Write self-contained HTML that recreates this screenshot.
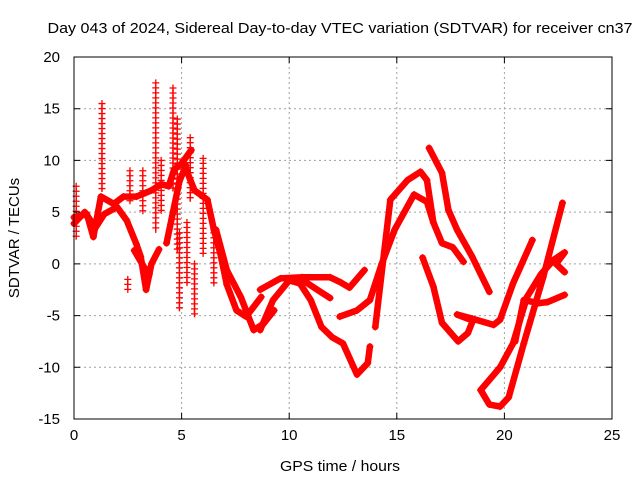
<!DOCTYPE html>
<html><head><meta charset="utf-8"><style>
html,body{margin:0;padding:0;background:#fff;}
svg{display:block;font-family:"Liberation Sans",sans-serif;}
</style></head><body>
<svg id="chart" width="640" height="480" viewBox="0 0 640 480">
<text x="340" y="33" font-size="15" text-anchor="middle" textLength="585" lengthAdjust="spacingAndGlyphs">Day 043 of 2024, Sidereal Day-to-day VTEC variation (SDTVAR) for receiver cn37</text>
<g id="grid"></g>
<g id="marks"></g>
<rect x="74" y="57" width="538" height="362" fill="none" stroke="#000" stroke-width="1"/>
<g id="axes"></g>
<text x="340" y="471" font-size="15" text-anchor="middle" textLength="120" lengthAdjust="spacingAndGlyphs">GPS time / hours</text>
<text transform="translate(19,238) rotate(-90)" font-size="15" text-anchor="middle">SDTVAR / TECUs</text>
</svg>
<script>
const xTicks=[0,5,10,15,20,25];
const yTicks=[-15,-10,-5,0,5,10,15,20];
// tracks: times and values
const tA=[14.0,14.7,15.5,16.1,16.4,16.7,17.1,17.6,18.1];
const vA=[-6.1,6.2,8.1,8.9,8.1,4.0,2.0,1.6,0.2];
const tB=[13.75,14.3,14.9,15.8,16.4,16.7];
const vB=[-3.5,0,3.3,6.7,6.0,4.0];
const tC=[16.5,17.1,17.4,17.8,18.5,19.3];
const vC=[11.2,8.8,5.2,3.3,0.7,-2.7];
const tD=[16.2,16.7,17.1,17.85,18.3,18.55,18.3,17.8,18.5,19.5,19.8,20.4,21.3];
const vD=[0.6,-2.2,-5.7,-7.5,-6.7,-5.4,-5.3,-4.9,-5.3,-5.9,-5.4,-1.9,2.3];
const tE=[18.9,19.3,19.8,20.2,20.9,21.8,22.7];
const vE=[-12.2,-13.6,-13.8,-12.9,-7.7,-1.3,5.9];
const tF=[18.9,19.8,20.4,21.05,21.7,22.3,22.8,22.4,22.8];
const vF=[-12.2,-10.0,-7.7,-3.2,-1.0,0.4,1.1,0.0,-0.8];
const tG=[20.5,20.9,21.6,22.0,22.8];
const vG=[-7.5,-3.5,-3.8,-3.7,-3.0];
const tH=[8.65,9.6,10.6,11.9,12.4,12.8,13.5];
const vH=[-2.5,-1.4,-1.3,-1.3,-1.8,-2.3,-0.6];
const tI=[8.65,9.25,10.0,10.5,11.0,11.5,12.0,12.5,13.15,13.65,13.75];
const vI=[-6.4,-3.5,-1.6,-1.9,-3.5,-6.1,-7.1,-7.7,-10.7,-9.6,-8.0];
const tJ=[12.35,13.15,13.75];
const vJ=[-5.1,-4.5,-3.5];
const tK=[10.65,11.3,11.9];
const vK=[-1.6,-2.5,-3.3];
const tL=[0,0.6,0.9,1.25,1.85,2.3,2.9,3.6,4.05,4.4,4.65,5.0,5.45];
const vL=[4.5,4.8,2.6,6.5,5.8,6.5,6.5,7.1,7.7,7.5,9.1,9.7,11.0];
const tM=[0,0.5,1.0,1.4,2.0,2.45,2.9,3.1,3.35,3.6,3.95];
const vM=[3.9,5.0,3.5,4.8,5.5,4.2,1.9,0.7,-2.5,0.0,1.4];
const tN=[2.8,3.25,3.5];
const vN=[1.3,-0.3,-1.0];
const tO=[5.1,5.6,6.2,6.5,6.8,7.1,7.55,8.0,8.7];
const vO=[9.7,7.1,6.2,3.3,1.0,-2.0,-4.5,-5.1,-3.2];
const tP=[6.6,7.1,7.75,8.35,8.8,9.3];
const vP=[3.3,-0.6,-3.2,-6.4,-5.8,-4.5];
const tQ=[4.3,4.6,4.9,5.2];
const vQ=[2.0,5.0,8.0,9.5];
// spikes: time, low, high
const spikeT=[1.3,2.6,3.2,3.8,4.05,4.6,4.8,5.4,6.0,4.9,5.6,2.5,6.5,0.1,5.25];
const spikeLo=[7,6,5,3,5,7,1,6,1,-4.5,-5,-2.5,-2,2.5,-2];
const spikeHi=[15.5,9,9,17.5,10,17,14,12.2,10.2,3,0,-1.5,3,7.5,4];

const NS="http://www.w3.org/2000/svg";
const X0=74,X1=612,Y0=419,Y1=57;
function xs(t){return X0+(t-0)/25*(X1-X0);}
function ys(v){return Y0-(v+15)/35*(Y0-Y1);}
const grid=document.getElementById('grid'),axes=document.getElementById('axes'),marks=document.getElementById('marks');
function mk(tag,attrs,parent){const e=document.createElementNS(NS,tag);for(const k in attrs)e.setAttribute(k,attrs[k]);parent.appendChild(e);return e;}
xTicks.forEach(t=>{
  const x=xs(t);
  if(t>0&&t<25){const g=mk('line',{x1:x,x2:x,y1:Y0,y2:Y1,stroke:'#a0a0a0','stroke-dasharray':'2,3'},grid);
  
  }
  const tk=mk('path',{d:`M${x},${Y0}v-6M${x},${Y1}v6`,stroke:'#000'},axes);
  
  
  const l=mk('text',{x:x,y:Y0+21,'font-size':15,'text-anchor':'middle'},axes);l.textContent=t;
  
  
});
yTicks.forEach(v=>{
  const y=ys(v);
  if(v>-15&&v<20){const g=mk('line',{x1:X0,x2:X1,y1:y,y2:y,stroke:'#a0a0a0','stroke-dasharray':'2,3'},grid);
  
  }
  const tk=mk('path',{d:`M${X0},${y}h6M${X1},${y}h-6`,stroke:'#000'},axes);
  
  
  const l=mk('text',{x:X0-14,y:y+5,'font-size':15,'text-anchor':'end'},axes);l.textContent=v;
  
  
});
function plus(x,y,name){
  const p=mk('path',{d:`M${x-3.5},${y}h7M${x},${y-3.5}v7`,stroke:'#f00','stroke-width':1.3},marks);
  
  
}
const tracks=[[tA,vA],[tB,vB],[tC,vC],[tD,vD],[tE,vE],[tF,vF],[tG,vG],[tH,vH],[tI,vI],[tJ,vJ],[tK,vK],[tL,vL],[tM,vM],[tN,vN],[tO,vO],[tP,vP],[tQ,vQ]];
tracks.forEach(([ts,vs])=>{
  const pts=ts.map((t,i)=>xs(t)+','+ys(vs[i])).join(' ');
  const pl=mk('polyline',{points:pts,fill:'none',stroke:'#f00','stroke-width':6.5,'stroke-linejoin':'round','stroke-linecap':'round'},marks);
  
  
  ts.forEach((t,i)=>plus(xs(t),ys(vs[i]),'data-point'));
});
spikeT.forEach((t,i)=>{
  const x=xs(t),ya=ys(spikeHi[i]),yb=ys(spikeLo[i]);
  const ln=mk('line',{x1:x,x2:x,y1:ya,y2:yb,stroke:'#f00','stroke-width':1.3},marks);
  
  
  for(let y=ya;y<=yb;y+=5)plus(x,y,'spike-point');
});
</script>
</body></html>
